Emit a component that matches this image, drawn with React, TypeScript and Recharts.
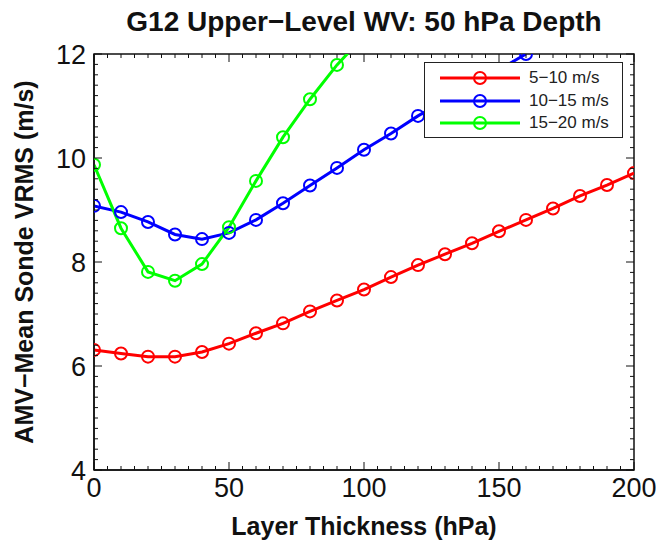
import React from 'react';
import { LineChart, Line, XAxis, YAxis, Legend, Label, ReferenceArea } from 'recharts';

// layer thickness (hPa)
const thickness = [0, 10, 20, 30, 40, 50, 60, 70, 80, 90, 100, 110, 120, 130, 140, 150, 160, 170, 180, 190, 200];

// AMV - mean sonde VRMS (m/s) per speed bin
const speed5to10 = [6.31, 6.24, 6.18, 6.18, 6.27, 6.43, 6.63, 6.82, 7.05, 7.26, 7.47, 7.71, 7.94, 8.15, 8.36, 8.59, 8.81, 9.03, 9.27, 9.48, 9.71];
const speed10to15 = [9.08, 8.96, 8.77, 8.53, 8.44, 8.56, 8.81, 9.13, 9.47, 9.81, 10.16, 10.47, 10.81, 11.1, 11.4, 11.7, 12.0];
const speed15to20 = [9.87, 8.65, 7.81, 7.64, 7.96, 8.67, 9.56, 10.4, 11.13, 11.79, 12.35];

const seriesNames = ['5−10 m/s', '10−15 m/s', '15−20 m/s'];
const xTicks = [0, 50, 100, 150, 200];
const yTicks = [4, 6, 8, 10, 12];
// minor tick marks (every 5 hPa, every 0.2 m/s)
const xMinor = Array.from({ length: 41 }, (_, i) => i * 5);
const yMinor = Array.from({ length: 41 }, (_, i) => Math.round((4 + i * 0.2) * 10) / 10);

const data = thickness.map((t, i) => ({
  t,
  slow: speed5to10[i],
  mid: speed10to15[i],
  fast: speed15to20[i],
}));

const FONT = '"Liberation Sans", Arial, Helvetica, sans-serif';
const X_DOMAIN: [number, number] = [0, 200];
const Y_DOMAIN: [number, number] = [4, 12];

const W = 656;
const H = 536;
const M = { top: 46, right: 30, bottom: 0, left: 0 };
const Y_AXIS_W = 86;
const X_AXIS_H = 74;
const PLOT_W = W - M.left - M.right - Y_AXIS_W;
const PLOT_H = H - M.top - M.bottom - X_AXIS_H;

const isMajorX = (v: number) => xTicks.includes(v);
const isMajorY = (v: number) => yTicks.includes(v);

const XTick = (props: any) => {
  const { x, y, payload } = props;
  const v = payload.value;
  const len = isMajorX(v) ? 8 : 4;
  return (
    <g>
      <line x1={x} x2={x} y1={y} y2={y - len} stroke="#111" strokeWidth={1} />
      <line x1={x} x2={x} y1={y - PLOT_H} y2={y - PLOT_H + len} stroke="#111" strokeWidth={1} />
      {isMajorX(v) && (
        <text x={x} y={y + 8} dy="0.71em" textAnchor="middle" fontSize={27} fill="#111" fontFamily={FONT}>
          {v}
        </text>
      )}
    </g>
  );
};

const YTick = (props: any) => {
  const { x, y, payload } = props;
  const v = payload.value;
  const len = isMajorY(v) ? 8 : 4;
  return (
    <g>
      <line x1={x} x2={x + len} y1={y} y2={y} stroke="#111" strokeWidth={1} />
      <line x1={x + PLOT_W} x2={x + PLOT_W - len} y1={y} y2={y} stroke="#111" strokeWidth={1} />
      {isMajorY(v) && (
        <text x={x - 8} y={y} dy="0.355em" textAnchor="end" fontSize={27} fill="#111" fontFamily={FONT}>
          {v}
        </text>
      )}
    </g>
  );
};

const LegendBox = (props: any) => {
  const items = [...(props.payload || [])].sort(
    (a: any, b: any) => seriesNames.indexOf(a.value) - seriesNames.indexOf(b.value),
  );
  return (
    <div
      style={{
        width: 199,
        height: 76,
        border: '1.5px solid #222',
        background: '#fff',
        boxSizing: 'border-box',
        paddingTop: 4,
        fontFamily: FONT,
      }}
    >
      {items.map((it: any) => (
        <div key={it.value} style={{ display: 'flex', alignItems: 'center', height: 22.5 }}>
          <svg width={104} height={20} style={{ flex: 'none' }}>
            <line x1={15} x2={95} y1={10} y2={10} stroke={it.color} strokeWidth={3} />
            <circle cx={55} cy={10} r={6} fill="none" stroke={it.color} strokeWidth={2} />
          </svg>
          <span style={{ fontSize: 17, color: '#222' }}>{it.value}</span>
        </div>
      ))}
    </div>
  );
};

const App: React.FC = () => {
  const dot = (color: string) => ({ r: 6, fill: 'none', stroke: color, strokeWidth: 2 });

  return (
    <div style={{ position: 'relative', width: W, height: H, background: '#fff' }}>
      <div
        style={{
          position: 'absolute',
          left: Y_AXIS_W,
          width: PLOT_W,
          top: 0,
          textAlign: 'center',
          fontFamily: FONT,
          fontWeight: 'bold',
          fontSize: 28,
          lineHeight: '28px',
          color: '#111',
        }}
      >
        G12 Upper−Level WV: 50 hPa Depth
      </div>
      <LineChart width={W} height={H} data={data} margin={M} style={{ fontFamily: FONT }}>
        <XAxis
          xAxisId="x"
          dataKey="t"
          type="number"
          domain={X_DOMAIN}
          ticks={xMinor}
          interval={0}
          allowDataOverflow
          height={X_AXIS_H}
          tickLine={false}
          tickSize={0}
          tickMargin={0}
          axisLine={{ stroke: '#111', strokeWidth: 1.5 }}
          tick={<XTick />}
        >
          <Label
            content={({ viewBox }: any) => (
              <text
                x={viewBox.x + viewBox.width / 2}
                y={viewBox.y + 56}
                textAnchor="middle"
                dominantBaseline="central"
                fontSize={25}
                fontWeight="bold"
                fill="#111"
                fontFamily={FONT}
              >
                Layer Thickness (hPa)
              </text>
            )}
          />
        </XAxis>
        <YAxis
          yAxisId="y"
          type="number"
          domain={Y_DOMAIN}
          ticks={yMinor}
          interval={0}
          allowDataOverflow
          width={Y_AXIS_W}
          tickLine={false}
          tickSize={0}
          tickMargin={0}
          axisLine={{ stroke: '#111', strokeWidth: 1.5 }}
          tick={<YTick />}
        >
          <Label
            content={({ viewBox }: any) => {
              const cx = 16;
              const cy = viewBox.y + viewBox.height / 2;
              return (
                <text
                  x={cx}
                  y={cy}
                  transform={`rotate(-90, ${cx}, ${cy})`}
                  textAnchor="middle"
                  dominantBaseline="central"
                  fontSize={25}
                  fontWeight="bold"
                  fill="#111"
                  fontFamily={FONT}
                >
                  AMV−Mean Sonde VRMS (m/s)
                </text>
              );
            }}
          />
        </YAxis>

        {/* plot box */}
        <ReferenceArea
          xAxisId="x"
          yAxisId="y"
          x1={0}
          x2={200}
          y1={4}
          y2={12}
          fill="none"
          stroke="#111"
          strokeWidth={1.5}
          fillOpacity={0}
        />

        <Legend
          layout="vertical"
          align="center"
          verticalAlign="middle"
          content={<LegendBox />}
          wrapperStyle={{ position: 'absolute', left: 416, top: 54, width: 199, height: 76 }}
        />

        <Line xAxisId="x" yAxisId="y" type="linear" dataKey="slow" name={seriesNames[0]} stroke="#ff0000" strokeWidth={3}
          dot={dot('#ff0000')} activeDot={false} isAnimationActive={false} />
        <Line xAxisId="x" yAxisId="y" type="linear" dataKey="mid" name={seriesNames[1]} stroke="#0000ff" strokeWidth={3}
          dot={dot('#0000ff')} activeDot={false} isAnimationActive={false} />
        <Line xAxisId="x" yAxisId="y" type="linear" dataKey="fast" name={seriesNames[2]} stroke="#00ff00" strokeWidth={3}
          dot={dot('#00ff00')} activeDot={false} isAnimationActive={false} />
      </LineChart>
    </div>
  );
};

export default App;
